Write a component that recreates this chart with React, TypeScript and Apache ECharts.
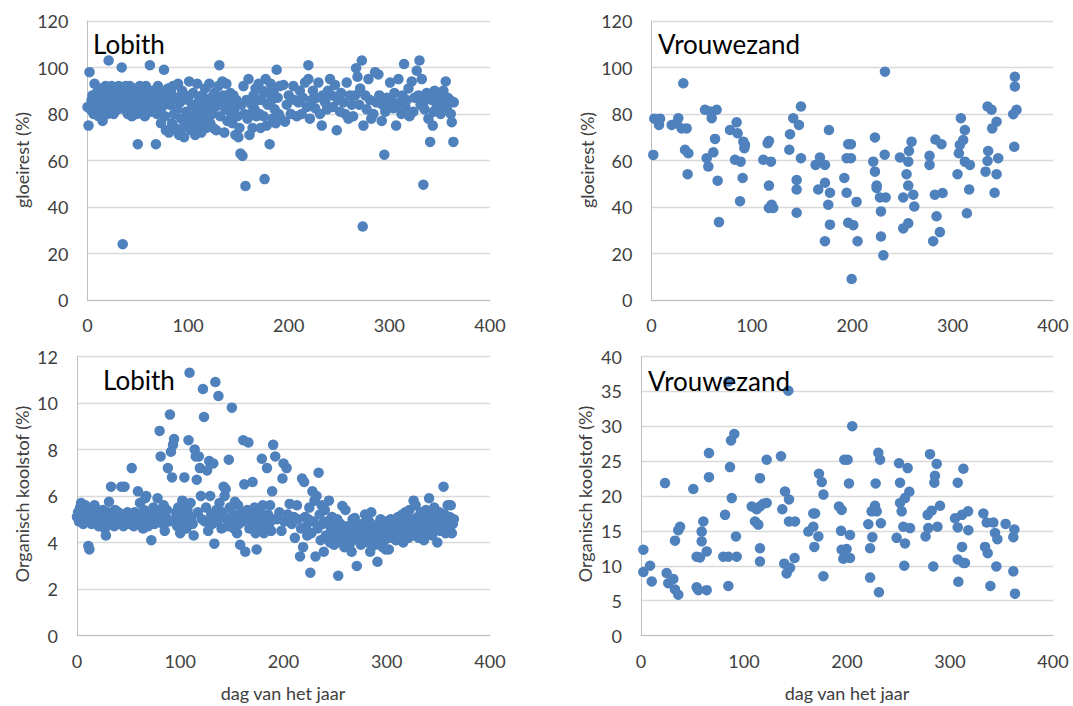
import React, { useEffect, useRef } from "react";
import * as echarts from "echarts";

// ---------- data ----------
const xTickValues = [0, 100, 200, 300, 400];
const gloeirestTicks = [0, 20, 40, 60, 80, 100, 120];
const lobithOCTicks = [0, 2, 4, 6, 8, 10, 12];
const vrouwezandOCTicks = [0, 5, 10, 15, 20, 25, 30, 35, 40];

const panelTitles = ["Lobith", "Vrouwezand", "Lobith", "Vrouwezand"];
const yTitles = ["gloeirest (%)", "gloeirest (%)", "Organisch koolstof (%)", "Organisch koolstof (%)"];
const xTitle = "dag van het jaar";

const lobithGloeirest = [
  [0,83],[1,75],[2,98],[3,82],[4,86],[5,88],[6,80],[7,93],[8,85],[9,89],[10,83],[11,79],[12,87],[13,91],[14,84],[15,77],[16,88],[17,82],[18,92],[19,86],[20,80],
  [21,103],[22,89],[23,84],[24,92],[25,87],[26,80],[27,91],[28,85],[29,88],[30,82],[31,92],[32,86],[33,84],[34,100],[35,24],[36,89],[37,82],[38,92],[39,86],[40,80],
  [41,88],[42,92],[43,84],[44,79],[45,86],[46,91],[47,83],[48,88],[49,80],[50,67],[51,85],[52,92],[53,87],[54,82],[55,89],[56,84],[57,79],[58,92],[59,86],[60,83],
  [61,88],[62,101],[63,85],[64,81],[65,90],[66,84],[67,87],[68,67],[69,80],[70,92],[71,85],[72,89],[73,76],[74,83],[75,88],[76,99],[77,79],[78,73],[79,86],[80,91],
  [81,72],[82,84],[83,89],[84,76],[85,92],[86,80],[87,74],[88,87],[89,82],[90,93],[91,71],[92,85],[93,78],[94,90],[95,74],[96,70],[97,88],[98,81],[99,76],[100,86],
  [101,94],[102,79],[103,73],[104,84],[105,89],[106,77],[107,71],[108,82],[109,93],[110,75],[111,86],[112,80],[113,72],[114,88],[115,83],[116,78],[117,91],[118,74],[119,85],[120,81],
  [121,93],[122,76],[123,87],[124,80],[125,74],[126,89],[127,83],[128,73],[129,86],[130,92],[131,101],[132,79],[133,85],[134,94],[135,88],[136,72],[137,82],[138,93],[139,77],[140,86],
  [141,84],[142,89],[143,80],[144,76],[145,88],[146,82],[147,71],[148,86],[149,79],[150,70],[151,74],[152,63],[153,84],[154,62],[155,92],[156,80],[157,49],[158,86],[159,78],[161,71],
  [160,95],[162,80],[163,84],[164,74],[165,88],[166,82],[167,91],[168,79],[169,86],[170,93],[171,80],[172,74],[173,86],[174,90],[175,79],[176,52],[177,95],[178,75],[179,84],[180,89],
  [181,67],[182,93],[183,86],[184,78],[185,90],[186,82],[187,76],[188,99],[189,87],[190,80],[191,92],[192,78],
  [194.7,92.5],[196.3,76.7],[198,84],[200,88],[202,80],[204.6,92],[206,86],[208,79],[209.6,85],[211,90],[212.9,80],[214,87],[216.2,93.5],[218,83],[219.5,101],[219.5,95],[221,78],[222.8,86],[224,90],[226.2,82.5],[228,87],[229.5,93.5],[231.1,80],[232.8,75],[234,88],[236.1,85],[238,82],[239,90],[241,95],[242.7,88],[244,83],[246,92.5],[247.7,73],[249,86],[251,81],[252,89],[254.3,85],[256,80],[257.6,93.5],[259.3,78],[261,88],[262.6,84],[264,79],[265.9,88],[266.9,99.7],[268.3,96],[270,84],[271,91],[272.6,103],[273.5,31.6],[274.2,75],[276,88],[277.5,82],[279.2,95],[280.8,86],[282,78],[284.1,80],[285.8,98],[287,85],[289.1,97],[290,88],[292.4,77],[293,84],[295,62.5],[296,81],[297.4,87],[299,84],[300.7,93.5],[302,86],[304,82.5],[305,89],[306.7,75],[308,84],[309,95],[310.6,85],[312,80],[313,88],[314.6,101.5],[316,83],[317.2,86],[319,91],[320,79],[322.2,94],[323.9,81],[325,87],[327.2,98.6],[328.9,88],[329.9,103],[331,84],[332.2,95],[333.8,49.6],[333.8,85],[335,82],[337.1,89],[338.8,78],[340.5,68],[341,87],[342.1,86],[343.1,75],[344,81],[345,90],[347.1,83],[348,88],[350.4,87],[351,80],[352,85],[353.7,90],[355,84],[356,94],[357,82.5],[358,87],[360.3,86],[361,80],[362,76.5],[363.6,68],[364,85]
];

const vrouwezandGloeirest = [
  [1.8,62.4],[2.8,78],[8.5,78],[7.5,75.3],[20.1,75.3],[25,76],[26.7,78.2],[31.7,93.2],[30,73.8],[35,73.8],[33.4,64.6],[36.7,63.1],[36,54.1],[53.3,81.8],[58.3,81.1],[60,78.2],[64.9,81.8],[63.3,69.3],[61.6,63.5],[55,61],[56.6,57.4],[65.9,51.3],[67.2,33.5],[78.2,73.1],[84.8,76.4],[85.8,71.7],[91.5,68.1],[93.1,66.7],[92.5,65.3],[83.2,60.3],[88.8,59.5],[90.8,52.5],[88.2,42.5],[111.4,60.3],[119,59.5],[115.7,67.4],[117,68.4],[117,49.2],[119.7,41],[117,39.6],[121.3,39.6],[138,71.3],[141.2,78.2],[146.9,75.3],[148.9,83.2],[137.3,64.6],[148.9,61],[144.6,51.6],[144.6,47.5],[144.6,37.5],[163.5,58.1],[167.8,61.3],[172.8,58.1],[176.8,73.1],[166.1,47.5],[172.8,50.4],[177.8,46.1],[176.1,41],[177.8,32.4],[172.8,25.3],[192.1,52.5],[194.4,46.1],[196,67],[198.7,67],[194.4,61],[198.7,61],[196,33.2],[201,32.2],[199.4,9],
  [204.3,42.2],[205.3,25.3],[222.6,69.9],[220.9,59.5],[222.6,55.2],[224.3,49.2],[224.3,48.2],[227.6,44.1],[233.3,44.1],[232.3,62.5],[228.6,38.1],[228.6,27.3],[231,19.2],[232.6,98.2],[247.5,61.3],[255.8,59.5],[254.1,54.1],[255.8,49.2],[259.1,68.1],[256.5,64.1],[250.8,44.1],[260.8,45.3],[261.8,40.2],[255.8,33],[250.8,30.8],[277,62],[277,58.1],[282.9,69],[288.9,67],[282.3,45.3],[290,46],[284,36],[287.3,29.2],[280.6,25.3],[308.2,78.2],[312.2,73.1],[310.5,68.8],[307.2,66.7],[306.2,63.1],[312.2,59.5],[317.2,58.1],[304.9,54.1],[316.5,47.5],[314.2,37.3],[334.8,83.2],[338.8,81.8],[343.8,76.7],[339.4,73.8],[335.4,64.1],[334.8,59.8],[345.4,61],[332.8,55.2],[343.8,54.1],[341.8,46.1],[362,96],[362,91.8],[363.7,81.8],[360.4,79.9],[361.4,65.9]
];

const lobithOC = [
  [0,5.1],[1,5.3],[2,4.9],[3,5.5],[4,5.7],[5,5.0],[6,4.8],[7,5.2],[8,5.6],[9,4.9],[10,5.1],[11,3.85],[12,3.7],[13,5.3],[14,4.8],[15,5.0],[16,5.2],[17,5.6],[18,4.9],[19,5.1],[20,5.3],[21,4.7],[22,5.0],[23,5.2],[24,4.8],[25,5.4],[26,5.0],[27,4.6],[28,4.3],[29,5.1],[30,5.3],[31,5.75],
  [32,4.9],[33,6.4],[34,5.0],[35,5.2],[36,4.7],[37,5.4],[38,4.9],[39,5.1],[40,5.3],[41,4.8],[42,5.0],[43,6.4],[44,5.2],[45,4.7],[46,6.4],[47,5.1],[48,4.9],[49,5.3],[50,5.0],[51,4.8],[52,5.2],[53,7.2],[54,5.0],[55,4.7],[56,5.3],[57,4.9],[58,5.1],[59,6.2],[60,5.0],[61,5.7],
  [62,4.8],[63,5.2],[64,4.6],[65,5.4],[66,5.9],[67,6.0],[68,5.0],[69,4.7],[70,5.3],[71,4.9],[72,4.1],[73,5.1],[74,5.5],[75,4.8],[76,5.0],[77,5.4],[78,5.9],[79,4.9],[80,8.8],[81,7.7],[82,5.2],[83,4.8],[84,5.6],[85,4.5],[86,5.1],[87,5.4],[88,7.2],[89,4.9],[90,9.5],[91,7.9],[92,6.8],[93,8.2],[94,8.45],[95,5.0],
  [96,5.3],[97,4.7],[98,5.5],[99,4.9],[100,4.4],[101,5.2],[102,5.8],[103,5.75],[104,6.8],[105,5.0],[106,4.6],[107,5.4],[108,8.4],[109,11.3],[110,5.7],[111,5.1],[112,4.8],[113,4.3],[114,8.0],[115,7.7],[116,6.7],[117,5.3],[118,7.7],[119,7.2],[120,6.0],[121,5.0],[122,10.6],[123,9.4],[124,4.9],[125,5.5],[126,7.1],[127,4.5],[128,7.5],[129,6.0],[130,5.2],[131,4.8],
  [132,7.4],[133,3.95],[134,10.9],[135,5.4],[136,4.9],[137,10.3],[138,5.7],[139,5.1],[140,4.6],[141,5.3],[142,6.4],[143,6.0],[144,6.3],[145,5.0],[146,4.7],[147,7.56],[148,5.5],[149,4.9],[150,9.8],[151,5.2],[152,4.6],[153,5.75],[154,5.0],[155,4.4],[156,5.6],[157,4.8],[158,3.9],[159,5.3],[160,4.9],
  [161,8.4],[162,6.5],[163,3.6],[164,5.0],[165,5.4],[166,8.3],[167,4.6],[168,4.8],[169,5.2],[170,6.6],[171,4.9],[172,5.5],[173,4.4],[174,3.7],[175,5.1],[176,4.7],[177,5.3],[178,4.9],[179,7.6],[180,5.6],[181,4.4],[182,5.0],[183,4.6],[184,7.2],[185,5.2],[186,4.8],[187,5.6],[188,4.5],[189,6.2],[190,8.2],[191,5.0],
  [192,7.7],[194,5.0],[196,5.3],[198,4.5],[199,6.75],[200,7.4],[201,4.9],[203,7.2],[204,5.2],[206,5.66],[208,4.8],[210,5.1],[211,4.2],[213,5.6],[214,5.0],[216,3.4],[217,4.6],[218,6.75],[219,3.8],[220,6.6],[221,5.1],[222,4.7],[223,4.3],[224,5.0],[225,5.5],[226,2.7],[227,4.4],[228,6.2],[229,4.9],[230,5.8],[231,3.4],[232,6.0],[233,4.6],[234,7.0],[235,5.2],[236,4.1],[237,5.6],[238,4.8],[239,3.6],[240,5.4],[241,4.3],[242,4.9],[244,5.8],[245,4.0],[246,4.6],[247,5.1],[248,4.2],[249,3.9],[250,4.7],[251,4.4],[252,5.0],[253,2.57],[254,4.2],[255,4.8],[256,4.0],[257,5.57],[258,4.5],[259,3.8],[260,5.4],[261,4.1],[262,4.7],[263,4.3],[264,3.9],[265,4.6],[266,3.6],[267,5.0],[268,4.2],[269,5.05],[270,4.4],[271,2.99],[272,4.1],[273,4.7],[274,4.3],[275,3.9],[276,4.8],[277,4.0],[278,4.5],[279,5.2],[280,4.2],[281,4.6],[282,4.0],[283,4.9],[284,3.6],[285,5.3],[286,4.4],[287,4.1],[288,4.7],[289,3.9],[290,4.5],[291,3.17],[292,4.8],[293,4.2],[294,5.0],[295,4.4],[296,3.8],[297,4.6],[298,4.1],[299,3.7],[300,4.9],
  [301,4.3],[302,3.7],[303,4.6],[304,5.0],[305,4.2],[306,4.7],[307,4.4],[308,4.9],[309,4.1],[310,4.6],[311,5.1],[312,4.3],[313,4.8],[314,4.5],[315,5.2],[316,4.0],[317,4.7],[318,5.3],[319,4.4],[320,4.9],[321,4.2],[322,5.4],[323,4.6],[324,5.0],[325,4.3],[326,5.8],[327,4.8],[328,5.6],[329,4.5],[330,5.1],[331,4.2],[332,4.9],[333,5.3],[334,4.6],[335,5.0],[336,4.1],[337,4.8],[338,5.4],[339,4.4],[340,5.0],[341,5.9],[342,4.7],[343,5.2],[344,4.3],[345,4.9],[346,5.5],[347,4.6],[348,5.1],[349,4.0],[350,4.8],[351,5.3],[352,4.5],[353,5.0],[354,4.7],[355,6.4],[356,5.2],[357,4.4],[358,4.9],[359,5.6],[360,4.7],[361,5.1],[362,5.6],[363,4.4],[364,4.8],[365,5.0]
];

const vrouwezandOC = [
  [2.3,12.3],[2.3,9.1],[8.8,10],[10.4,7.75],[23.3,21.85],[24.9,8.95],[26.5,7.5],[31.4,8.1],[33,6.6],[36.2,5.85],[33,13.6],[36.2,15.1],[37.9,15.6],[50.8,21],[54,11.3],[57.3,11.2],[54,6.9],[55.7,6.5],[63.8,6.5],[58.9,13.5],[58.9,14.9],[60.5,16.35],[63.8,12.05],[66,26.15],[66,22.7],[81.6,17.3],[86.4,24.14],[87.4,27.96],[90.6,28.9],[88.1,19.7],[84.8,11.3],[92.9,11.3],[79.9,11.3],[92.2,14.2],[84.8,7.1],[84.8,36.4],[107.5,18.5],[112.3,18.1],[115.5,18.5],[118.8,18.9],[122,19],[110.7,16.35],[113.9,15.9],[115.5,22.56],[122,25.2],[115.5,12.5],[115.5,10.6],[135.9,25.7],[139.8,20.65],[143.7,19.5],[137.2,18.1],[143.7,16.35],[149.5,16.35],[139.1,10.3],[144.7,9.7],[141.4,8.9],[149.1,11.1],[143,35.1],[172.8,23.2],[175.5,22],[177.1,20.2],[167.3,17.5],[169,17.5],[162.5,14.9],[167.3,15.6],[168.3,12.7],[172.2,14.2],[177.1,8.5],[192.2,18.5],[194.8,18],[194.2,15],[194.8,12.3],[196.4,11],[197.4,25.2],
  [205.1,30],[200.6,25.2],[201.9,21.8],[202.9,14.4],[199.6,12.4],[202.9,11.1],[222.4,8.3],[231,6.2],[220.7,15.95],[224.6,14.1],[222.4,12.5],[227.8,21.8],[227.2,18.6],[223.9,17.8],[228.8,17.8],[232.9,16.1],[230.4,26.2],[232.1,25.2],[250.5,24.7],[258.9,24],[251.5,21.9],[260.5,20.6],[256.3,19.7],[251.5,19],[253.1,17.8],[254.7,15.6],[261.2,15.4],[248.2,14],[256.3,13.2],[255.6,10],[280.6,26],[287.1,24.6],[285.4,22.9],[284.8,21.9],[278.3,17.3],[282.2,17.9],[290.3,18.6],[278.9,15.4],[287.8,15.6],[276.3,14.2],[283.8,9.9],[313,23.9],[307.5,21.9],[304.9,16.8],[307.5,15.5],[311.7,17.3],[317.5,17.8],[317.8,15.1],[311.7,12.7],[307.5,10.9],[314.5,10.4],[313,10.4],[308.1,7.7],[332.4,17.5],[335.7,16.2],[342.1,16.2],[343.7,14.7],[346,13.8],[334,12.7],[336.6,11.8],[345,9.9],[339.2,7.1],[354,16],[362.5,15.2],[361.5,14.1],[361.5,9.2],[363.1,6]
];

// ---------- layout / style ----------
const FONT = "Lato, 'Liberation Sans', sans-serif";
const TEXT = "#404040";
const DOT = "#4F81BD";
const GRID_LINE = "#d9d9d9";
const AXIS_LINE = "#bfbfbf";

const grids = [
  { left: 87.5, top: 21, width: 402.5, height: 279 },
  { left: 651.5, top: 21, width: 401.5, height: 279 },
  { left: 77, top: 356.5, width: 413, height: 279 },
  { left: 641, top: 356.5, width: 412, height: 279 },
];

const yScales = [
  { ticks: gloeirestTicks },
  { ticks: gloeirestTicks },
  { ticks: lobithOCTicks },
  { ticks: vrouwezandOCTicks },
];

const seriesData = [lobithGloeirest, vrouwezandGloeirest, lobithOC, vrouwezandOC];

export default function App() {
  const ref = useRef<HTMLDivElement>(null);

  useEffect(() => {
    document.body.style.margin = "0";
    if (!ref.current) return;
    const chart = echarts.init(ref.current, undefined, { renderer: "svg" });

    const xAxes = grids.map((_, i) => ({
      type: "value",
      gridIndex: i,
      min: xTickValues[0],
      max: xTickValues[xTickValues.length - 1],
      interval: xTickValues[1] - xTickValues[0],
      axisLine: { show: true, onZero: false, lineStyle: { color: AXIS_LINE, width: 1 } },
      axisTick: { show: false },
      splitLine: { show: false },
      axisLabel: { fontSize: 18, color: TEXT, fontFamily: FONT, margin: 16 },
    }));

    const yAxes = grids.map((_, i) => {
      const t = yScales[i].ticks;
      return {
        type: "value",
        gridIndex: i,
        min: t[0],
        max: t[t.length - 1],
        interval: t[1] - t[0],
        axisLine: { show: true, lineStyle: { color: AXIS_LINE, width: 1 } },
        axisTick: { show: false },
        splitLine: { show: true, lineStyle: { color: GRID_LINE, width: 1.3 } },
        axisLabel: { fontSize: 18, color: TEXT, fontFamily: FONT, margin: 19 },
      };
    });

    const series = seriesData.map((d, i) => ({
      type: "scatter",
      xAxisIndex: i,
      yAxisIndex: i,
      data: d,
      symbol: "circle",
      symbolSize: 10.5,
      itemStyle: { color: DOT, opacity: 1 },
      emphasis: { disabled: true },
      z: 2,
    }));

    const titlePos = [
      [93, 44],
      [658, 44],
      [103, 380],
      [648, 381],
    ];
    const yTitlePos = [
      [22, 160],
      [587, 160],
      [22, 494],
      [585, 494],
    ];

    const graphic: any[] = [];
    panelTitles.forEach((t, i) => {
      graphic.push({
        type: "text",
        x: titlePos[i][0],
        y: titlePos[i][1],
        z: 10,
        style: { text: t, fontSize: 26, fontFamily: FONT, fill: "#000", align: "left", verticalAlign: "middle" },
      });
    });
    yTitles.forEach((t, i) => {
      graphic.push({
        type: "text",
        x: yTitlePos[i][0],
        y: yTitlePos[i][1],
        rotation: Math.PI / 2,
        style: { text: t, fontSize: 18, fontFamily: FONT, fill: TEXT, align: "center", verticalAlign: "middle" },
      });
    });
    [[283, 693], [847, 693]].forEach((p) => {
      graphic.push({
        type: "text",
        x: p[0],
        y: p[1],
        style: { text: xTitle, fontSize: 18, fontFamily: FONT, fill: TEXT, align: "center", verticalAlign: "middle" },
      });
    });

    chart.setOption({
      animation: false,
      backgroundColor: "#ffffff",
      grid: grids,
      xAxis: xAxes,
      yAxis: yAxes,
      series,
      graphic,
    });

    return () => chart.dispose();
  }, []);

  return (
    <div
      ref={ref}
      style={{ position: "absolute", left: 0, top: 0, width: 1073, height: 706 }}
    />
  );
}
